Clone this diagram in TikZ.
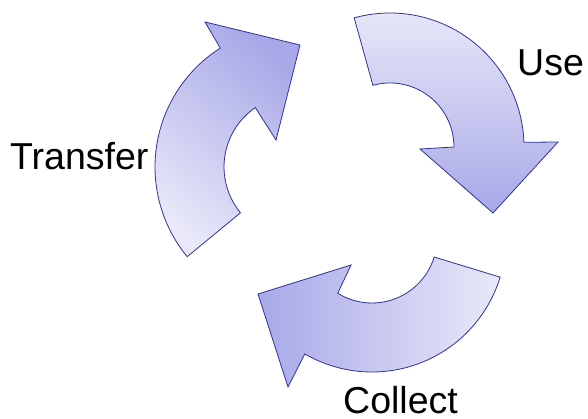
\documentclass[tikz,border=0pt]{standalone}
\usepackage{fontspec}
\setmainfont{Liberation Sans}
\usetikzlibrary{calc}
\definecolor{arrowdark}{HTML}{A8A8E8}
\definecolor{arrowlight}{HTML}{E9E9F9}
\definecolor{arrowline}{HTML}{31319A}
\begin{document}
\begin{tikzpicture}[x=1pt,y=1pt,
  cyc/.style={draw=arrowline, line width=0.8pt, line join=miter},
  lbl/.style={anchor=base west, inner sep=0pt, font=\fontsize{37.5}{40}\selectfont}]
\useasboundingbox (0,0) rectangle (588,419);
% Transfer arrow (going up)
\coordinate (ct) at (296,252);
\path[cyc, shading=axis, top color=arrowdark, bottom color=arrowlight, shading angle=-40]
  ($(ct)+(219.5:141pt)$) arc[start angle=219.5, end angle=122.5, radius=141pt]
  -- (205,397) -- (300,374) -- (276,279)
  -- ($(ct)+(124.4:72pt)$) arc[start angle=124.4, end angle=219.5, radius=72pt]
  -- cycle;
% Use arrow (going down right)
\coordinate (cu) at (390,272);
\path[cyc, shading=axis, top color=arrowlight, bottom color=arrowdark]
  ($(cu)+(105.5:134pt)$) arc[start angle=105.5, end angle=2, radius=134pt]
  -- (558,277) -- (493,206) -- (420,270)
  -- ($(cu)+(0:64pt)$) arc[start angle=0, end angle=105.5, radius=64pt]
  -- cycle;
% Collect arrow (going left)
\coordinate (cc) at (372,181);
\path[cyc, shading=axis, left color=arrowdark, right color=arrowlight]
  ($(cc)+(-17:134pt)$) arc[start angle=-17, end angle=-120.1, radius=134pt]
  -- (288,32) -- (258,125) -- (351,154)
  -- ($(cc)+(-121.8:65pt)$) arc[start angle=-121.8, end angle=-17, radius=65pt]
  -- cycle;
\node[lbl] (transfer) at (10,249) {Transfer};
\node[lbl] (use) at (517,343) {Use};
\node[lbl] (collect) at (343,5) {Collect};
\end{tikzpicture}
\end{document}
